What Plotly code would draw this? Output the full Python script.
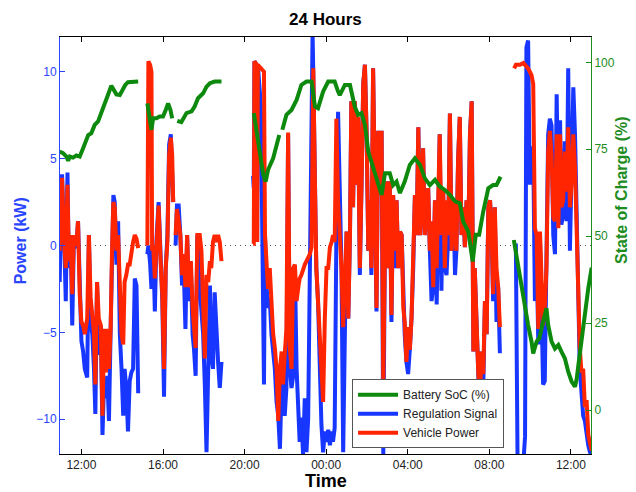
import pandas as pd
import plotly.graph_objects as go

BASE = pd.Timestamp("2012-06-01 10:00")

# ---- Power samples (minutes after 10:00 on day 1), four logged segments ----
pw_min_a = [56, 63, 69, 74, 79, 83, 88, 93, 98, 105, 110, 115, 120, 125, 130, 137, 142, 147, 152, 157,
            161, 166, 171, 177, 182, 187, 192, 196, 201, 206, 210, 214, 218, 223, 228, 233, 238, 243, 247, 252,
            257, 262, 267, 272, 277, 282, 287]
reg_a = [-2.1, 4.1, 0.6, -3.2, 4.2, -1.3, 0.6, -4.6, 0.6, -0.15, 1.4, -3.2, -5.5, -6.1, -7.1, -7.6, 0.6, -4.4, -5.1, -7.1,
         -9.7, -2.1, -6.3, -4.6, -10.9, -7.6, -8.8, -7.5, -10.1, -4.8, -1.3, 2.9, 2.5, -1.1, 1.4, -5.1, -7.1, -9.8, -7.1, -8.2,
         -10.7, -7.8, -7.3, -7.1, -1.9, -2.3, -8.5]
veh_a = [-0.3, 3.9, 0.2, -1.3, 3.5, -0.9, 0.6, -2.8, 0.6, 0.0, 1.4, -2.8, -4.4, -4.6, -5.1, -4.2, 0.6, -3.0, -4.0, -5.1,
         -8.0, -2.1, -4.2, -4.6, -9.8, -4.8, -7.3, -4.8, -7.1, -4.8, -0.3, 2.5, 2.2, -0.3, 0.6, -3.2, -5.1, -5.7, -2.1, -1.7,
         -1.1, -1.1, -0.3, 0.2, 0.6, 0.4, -0.15]

pw_min_b = [314, 317, 322, 326, 328, 331, 336, 341, 347, 353, 358, 363, 368, 373, 378, 383, 387, 390, 393, 397,
            401, 406, 411, 416, 421, 426, 431, 436, 442, 447, 451, 456, 461, 468, 473, 478, 483, 488, 493, 498,
            502, 507, 512, 517, 522, 527, 532]
reg_b = [-0.5, 0.0, -1.0, -2.5, -1.0, 0.0, -3.8, 0.4, 2.5, -1.3, -3.2, -8.7, -1.3, 0.6, 5.8, 6.4, 4.8, 2.5, None, 0.0,
         2.3, 2.3, 0.6, -2.3, -1.3, -4.8, 0.6, -3.2, -1.3, -5.1, -5.9, -7.5, 0.6, -2.4, -3.5, -5.1, -8.0, -11.9, -7.1, -2.3,
         -6.3, -7.1, -2.7, -5.1, -6.7, -8.2, -6.7]
veh_b = [0.0, 10.6, 10.4, 10.0, -0.3, 0.0, -1.9, 0.2, 2.3, -0.9, -2.8, -7.1, -1.3, 0.2, 5.2, 6.2, 5.2, 2.5, None, 0.6,
         2.1, 1.4, 0.6, -1.7, -0.5, -2.4, 0.6, -2.4, -0.9, -3.6, -4.8, -5.9, 0.6, 0.6, -0.3, -3.2, -6.5, -1.7, -2.1, -0.9,
         -1.3, 0.2, 0.6, 0.2, 0.6, 0.2, -0.9]

pw_min_c = [625, 627, 629, 636, 637, 639, 648, 653, 657, 660,
            664, 669, 674, 679, 684, 689, 694, 699, 704, 709, 713, 718, 723, 728, 733, 738, 743, 748, 753, 758,
            762, 767, 772, 777, 782, 787, 792, 797, 800, 802, 807, 811, 816, 821, 826, 831, 836, 841, 846, 851,
            856, 860, 865, 870, 875,
            885, 890, 895, 900, 905, 910, 914, 919, 924, 929, 934, 939, 944, 949, 954, 959, 964, 968, 973, 978,
            983, 988, 993, 998, 1003, 1008, 1013, 1017, 1022, 1027, 1032, 1037, 1042, 1047, 1052, 1057, 1062, 1067, 1071, 1076,
            1081, 1086, 1091, 1096, 1101, 1106, 1111, 1116, 1120, 1125, 1130, 1135, 1140, 1145, 1150, 1155, 1160, 1165, 1170, 1174,
            1179, 1184, 1189, 1194, 1199, 1204, 1209, 1214, 1219, 1223, 1228, 1233, 1238, 1243, 1248, 1253, 1258, 1263, 1268, 1273,
            1277, 1282, 1287, 1292, 1297, 1302, 1307, 1312, 1317, 1322, 1327, 1331, 1336, 1341, 1346, 1351]
reg_c = [4.0, 3.3, 10.6, 10.4, 0.2, 10.4, 8.0, 1.0, -8.0, 0.6,
         -2.2, -3.6, -3.0, -5.1, -6.1, -7.1, -9.0, -9.8, -11.7, -7.9, -7.1, -9.8, -8.2, 6.4, -7.1, -8.2, -7.5, -1.3, -7.1, -9.0,
         -11.3, -9.9, -12.0, -8.8, -11.9, -10.0, -1.3, 6.0, 12.2, 10.0, 3.5, -1.3, -3.2, -7.1, -10.3, -11.9, -10.7, -11.3, -10.6, -11.5,
         -10.7, -11.3, -10.5, 0.6, 7.7,
         -1.3, -11.9, -5.0, 0.8, -4.2, 0.6, 8.3, 2.2, 8.3, 3.5, 7.4, -1.7, 3.5, 9.3, 10.4, 6.4, -0.3, 2.6, -1.7, 10.2,
         3.5, -3.8, 6.6, 5.4, 6.6, -12.0, 0.6, 3.7, -1.3, 3.7, -4.4, 2.9, -1.3, 2.6, -1.3, 0.8, 0.6, -3.6, -5.1, -6.7,
         -7.4, -6.0, -4.2, -1.3, 2.9, 0.6, 6.8, 0.6, 2.2, 5.6, 0.6, 2.2, 3.3, -0.3, -3.2, -2.4, 2.6, -3.4, 2.2, 6.4,
         -2.6, 3.3, -1.3, -1.7, 0.6, 7.6, -0.3, 2.6, -1.7, -0.3, 4.9, 7.4, 0.6, 2.2, -0.1, 2.6, 0.6, 6.4, 8.3, -6.1,
         -1.3, -4.7, -7.1, -10.0, -6.1, -8.2, -3.2, -5.1, 2.2, 2.6, 0.6, -3.2, 2.2, -4.4, -2.4, -6.2]
veh_c = [0.1, 0.1, 10.6, 10.4, 0.2, 10.4, 10.2, 10.1, 10.0, 0.6,
         -1.3, -2.5, -1.3, -3.8, -5.1, -5.9, -7.1, -10.1, -7.1, -6.1, -8.0, -6.3, -4.8, 6.5, -5.9, -7.1, -1.3, -1.1, -3.2, -2.4,
         -1.9, -1.7, -1.3, -1.1, -0.9, -0.7, -0.5, -0.1, 8.0, 10.2, 3.5, -1.3, -3.2, -5.1, -8.0, -9.0, -4.2, -1.3, -1.3, -0.1,
         0.2, 0.6, 0.2, 7.3, 2.5,
         -1.3, -4.7, -2.2, 0.8, -4.2, 0.6, 8.3, 2.2, 8.3, 3.5, 7.4, -1.3, 3.5, 9.3, 10.4, 6.4, -0.3, 2.6, -1.3, 10.2,
         3.5, -3.6, 6.6, 5.4, 6.6, -8.2, 0.6, 3.7, -1.3, 3.7, -4.0, 2.9, -0.3, 2.6, -1.3, 0.8, 0.6, -3.6, -4.4, -6.7,
         -4.7, -6.0, -4.2, -1.3, 2.9, 0.6, 6.8, 0.6, 2.2, 5.6, 0.6, 2.2, 3.3, -0.3, 1.4, -2.4, 2.6, -1.3, 2.2, 6.4,
         0.6, 3.3, -1.3, 2.6, 0.6, 7.6, -0.3, 2.6, 0.6, -0.3, 4.9, 7.4, 0.6, 2.2, -0.1, 2.6, 0.6, 6.4, 8.3, -6.1,
         -1.3, -4.7, -7.1, -9.0, -6.1, -7.4, -3.2, -5.1, 2.2, 2.6, 0.6, -2.8, 2.2, -1.3, -2.4, -4.7]

pw_min_d = [1393, 1398, 1403, 1410, 1420, 1425, 1429, 1434, 1439, 1444, 1449, 1454, 1459, 1464, 1469, 1474, 1478, 1483, 1488, 1493,
            1498, 1503, 1508, 1513, 1518, 1523, 1528, 1532, 1537, 1542, 1547, 1552, 1557, 1562, 1567, 1572, 1577, 1582, 1586, 1591,
            1596, 1601, 1606, 1611, 1616, 1621]
reg_d = [0.0, 0.0, -12.5, -12.5, -12.5, -11.0, 11.4, 11.8, 3.5, 5.6, 5.6, -3.2, -0.3, -5.7, 0.2, -4.2, -8.0, -7.8, 0.6, 6.4,
         7.3, 6.9, 0.6, -0.5, 8.7, 1.6, 7.2, 1.2, 1.8, 6.0, 1.4, 10.2, -0.3, 4.1, 9.1, 6.4, -0.1, -3.2, -7.1, -9.0,
         -9.8, -10.1, -10.9, -11.5, -11.9, -12.0]
veh_d = [10.2, 10.4, 10.4, 10.4, 10.5, 10.4, 10.3, 10.2, 10.0, 9.8, 9.3, 1.0, 0.6, -4.8, 0.8, -3.2, -4.6, -3.6, -1.3, 5.4,
         6.6, 5.2, 1.6, 1.4, 6.4, 1.0, 6.4, 2.2, 2.6, 5.4, 3.1, 6.8, 2.2, 3.7, 6.4, 4.5, -0.1, -3.2, -5.9, -7.3,
         -7.1, -9.3, -8.9, -10.9, -11.5, -11.8]

# ---- Battery state of charge (%) ----
soc_min_a = [56, 66, 76, 81, 86, 95, 105, 115, 125, 135, 140, 149, 159, 169, 179, 189, 198, 208, 216, 223,
             233, 243, 249, 257, 272, 287]
soc_a = [74.3, 73.9, 72.9, 71.7, 72.9, 72.6, 73.2, 72.9, 75.3, 78.2, 79.1, 79.6, 82.0, 83.0, 85.4, 87.8, 90.6, 93.3, 92.1, 90.8,
         90.6, 92.6, 93.5, 94.3, 94.5, 94.5]
soc_min_b = [314, 321, 326, 331, 341, 350, 360, 368, 375, 382, 387, 390, 402, 414, 429, 444, 453, 463, 478, 488,
             498, 512, 532]
soc_b = [88.2, 83.0, 80.6, 83.9, 83.9, 84.4, 84.4, 86.3, 88.2, 86.3, 83.9, None, 83.2, 82.8, 85.4, 85.9, 87.3, 89.7, 91.1, 93.0,
         94.0, 94.5, 94.5]
soc_min_c = [627, 640, 655, 662, 669, 684, 702, 705, 711, 723, 738, 753, 767, 782, 797, 807, 816, 831, 846, 865,
             875, 880, 895, 910, 924, 934, 944, 954, 964, 973, 983, 993, 1003, 1013, 1027, 1037, 1047, 1057, 1071, 1086,
             1101, 1116, 1130, 1145, 1160, 1174, 1189, 1204, 1219, 1233, 1243, 1258, 1271, 1280, 1290, 1302, 1317, 1331, 1341, 1353]
soc_c = [85.4, 76.3, 67.6, 65.7, 69.1, 72.4, 79.1, None, 80.6, 84.9, 86.3, 89.2, 93.5, 94.5, 94.5, 87.3, 86.8, 91.6, 94.5, 94.5,
         91.6, 90.6, 93.5, 93.5, 87.3, 84.9, 85.4, 82.0, 74.3, 71.5, 67.6, 65.2, 61.9, 68.1, 68.1, 64.7, 65.7, 62.4, 65.7, 70.5,
         72.4, 70.5, 66.7, 64.7, 66.2, 64.3, 63.3, 61.9, 60.0, 59.5, 54.2, 51.3, 42.7, 50.4, 50.4, 57.1, 63.8, 64.7, 64.7, 67.1]
soc_min_d = [1392, 1405, 1420, 1434, 1444, 1449, 1459, 1467, 1478, 1488, 1493, 1503, 1513, 1523, 1532, 1542, 1552, 1562, 1572, 1577,
             1582, 1591, 1601, 1611, 1621]
soc_d = [48.9, 40.8, 33.1, 24.5, 19.7, 16.3, 19.7, 20.6, 25.4, 29.3, 24.5, 19.7, 17.7, 18.7, 16.8, 14.9, 11.0, 8.2, 6.7, 9.0,
         13.0, 20.0, 28.0, 35.0, 41.0]

power_ticks = [-10, -5, 0, 5, 10]
soc_ticks = [0, 25, 50, 75, 100]

FONT = "Liberation Sans, Arial, Helvetica, sans-serif"
BLUE = "#1736ff"
RED = "#ff2500"
GREEN = "#0d8a0d"
AX_BLUE = "#2a45ff"
AX_GREEN = "#1e8c1e"

W, H = 636, 492
ML, MR, MT, MB = 60, 45, 37, 38
PW, PH = W - ML - MR, H - MT - MB


def join(times_list, vals_list):
    xs, ys = [], []
    for t, v in zip(times_list, vals_list):
        if xs:
            xs.append(xs[-1])
            ys.append(None)
        xs.extend(BASE + pd.Timedelta(minutes=m) for m in t)
        ys.extend(v)
    return xs, ys


rx, ry = join([pw_min_a, pw_min_b, pw_min_c, pw_min_d], [reg_a, reg_b, reg_c, reg_d])
vx, vy = join([pw_min_a, pw_min_b, pw_min_c, pw_min_d], [veh_a, veh_b, veh_c, veh_d])
sx, sy = join([soc_min_a, soc_min_b, soc_min_c, soc_min_d], [soc_a, soc_b, soc_c, soc_d])

fig = go.Figure()
fig.add_trace(go.Scatter(x=rx, y=ry, mode="lines", name="Regulation Signal", legendrank=2,
                         line=dict(color=BLUE, width=4), connectgaps=False))
fig.add_trace(go.Scatter(x=vx, y=vy, mode="lines", name="Vehicle Power", legendrank=3,
                         line=dict(color=RED, width=4), connectgaps=False))
fig.add_trace(go.Scatter(x=sx, y=sy, mode="lines", name="Battery SoC (%)", legendrank=1, yaxis="y2",
                         line=dict(color=GREEN, width=4), connectgaps=False))

fig.add_shape(type="line", xref="paper", x0=0, x1=1, yref="y", y0=0, y1=0,
              line=dict(color="#555555", width=1, dash="1px,4px"), layer="below")

annotations = [
    dict(text="<b>24 Hours</b>", xref="paper", yref="paper", x=0.5, y=1 + (MT - 19.5) / PH,
         xanchor="center", yanchor="middle", showarrow=False, font=dict(size=17, color="black")),
    dict(text="<b>Time</b>", xref="paper", yref="paper", x=0.5, y=-(481 - (H - MB)) / PH,
         xanchor="center", yanchor="middle", showarrow=False, font=dict(size=18, color="black")),
    dict(text="<b>Power (kW)</b>", xref="paper", yref="paper", x=(20 - ML) / PW, y=0.51,
         xanchor="center", yanchor="middle", showarrow=False, textangle=-90,
         font=dict(size=16, color=AX_BLUE)),
    dict(text="<b>State of Charge (%)</b>", xref="paper", yref="paper", x=(621 - ML) / PW, y=(H - MB - 190) / PH,
         xanchor="center", yanchor="middle", showarrow=False, textangle=-90,
         font=dict(size=16, color=AX_GREEN)),
]

fig.update_layout(
    width=W, height=H,
    margin=dict(l=ML, r=MR, t=MT, b=MB),
    paper_bgcolor="white", plot_bgcolor="white",
    font=dict(family=FONT, size=12, color="#222222"),
    showlegend=True,
    annotations=annotations,
    legend=dict(x=0.55, y=0.014, xanchor="left", yanchor="bottom", bgcolor="white",
                bordercolor="#555555", borderwidth=1, font=dict(size=12, color="#222222"),
                itemwidth=40, tracegroupgap=0),
    xaxis=dict(type="date", range=[BASE + pd.Timedelta(minutes=57), BASE + pd.Timedelta(minutes=1619)],
               tick0=BASE + pd.Timedelta(hours=2), dtick=4 * 3600 * 1000, tickformat="%H:%M",
               ticks="inside", ticklen=5, tickcolor="black", showline=True, linecolor="black", linewidth=1,
               mirror="ticks", showgrid=False, zeroline=False, automargin=False,
               tickfont=dict(size=12, color="#222222")),
    yaxis=dict(range=[-12, 12], tickvals=power_ticks, ticks="inside", ticklen=5, tickcolor=AX_BLUE,
               showline=True, linecolor=AX_BLUE, linewidth=1, showgrid=False, zeroline=False, automargin=False,
               tickfont=dict(size=12, color=AX_BLUE)),
    yaxis2=dict(range=[-12.65, 107.3], tickvals=soc_ticks, overlaying="y", side="right",
                ticks="inside", ticklen=5, tickcolor=AX_GREEN, showline=True, linecolor=AX_GREEN, linewidth=1,
                showgrid=False, zeroline=False, automargin=False, tickfont=dict(size=12, color=AX_GREEN)),
)

fig.write_html("out.html", config={"displayModeBar": False},
               post_script="document.body.style.margin='0px';document.body.style.overflow='hidden';")
